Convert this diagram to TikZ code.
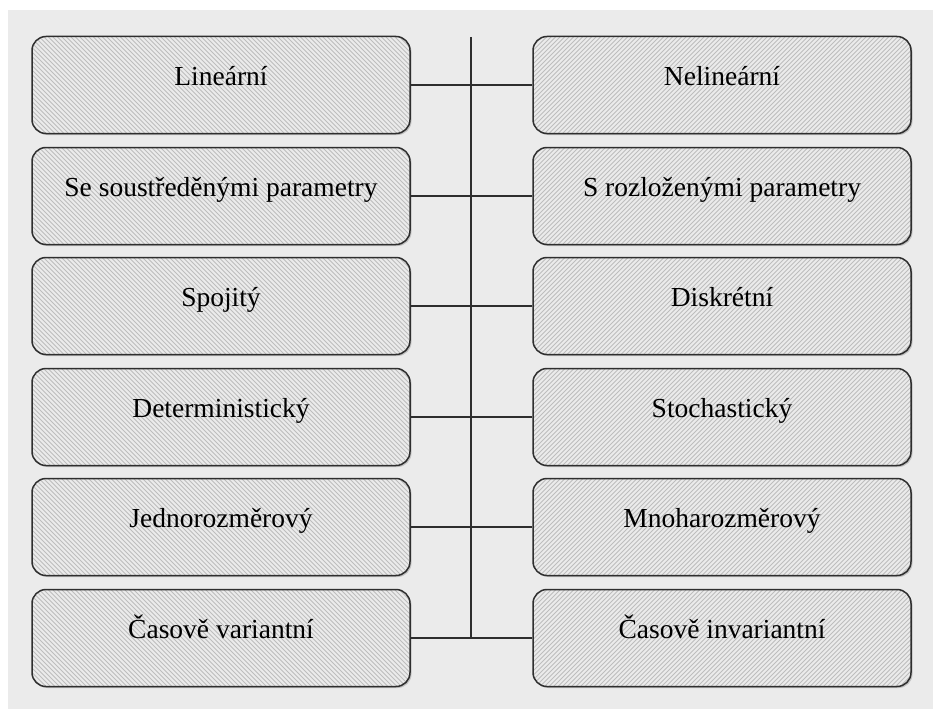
\documentclass[tikz,border=0pt]{standalone}
\usepackage{fontspec}
\setmainfont{Liberation Serif}
\usetikzlibrary{shadows}

\definecolor{bggray}{HTML}{EBEBEB}
\definecolor{hatchgray}{HTML}{BDBDBD}
\definecolor{edgegray}{HTML}{2E2E2E}

\begin{document}
\begin{tikzpicture}[
    x=1pt, y=-1pt,
    kind/.style={
        rectangle,
        rounded corners=14pt,
        minimum width=378pt,
        minimum height=97pt,
        draw=edgegray,
        line width=1.5pt,
        fill=bggray,
        drop shadow={shadow xshift=1.5pt, shadow yshift=-1.5pt, opacity=0.4},
        font=\fontsize{27.5}{30}\selectfont,
        text height=18pt,
        text depth=18pt,
        align=center
    },
    % hatching "\\" on the left, "//" on the right
    leftkind/.style={kind, path picture={
        \foreach \k in {-110,-105.5,...,390}
            \draw[hatchgray, line width=0.8pt]
                ([xshift=\k pt]path picture bounding box.north west) -- ++(110pt,-110pt);}},
    rightkind/.style={kind, path picture={
        \foreach \k in {-110,-105.5,...,390}
            \draw[hatchgray, line width=0.8pt]
                ([xshift=\k pt]path picture bounding box.south west) -- ++(110pt,110pt);}},
    link/.style={draw=edgegray, line width=1.5pt}
]

\useasboundingbox (0,0) rectangle (933,709);
\fill[bggray] (8,10) rectangle (933,709);

\node[leftkind] (lin) at (221,85) {Lineární};
\node[rightkind] (nelin) at (722,85) {Nelineární};
\node[leftkind] (soustr) at (221,196) {Se soustředěnými parametry};
\node[rightkind] (rozloz) at (722,196) {S rozloženými parametry};
\node[leftkind] (spoj) at (221,306) {Spojitý};
\node[rightkind] (diskr) at (722,306) {Diskrétní};
\node[leftkind] (determ) at (221,417) {Deterministický};
\node[rightkind] (stoch) at (722,417) {Stochastický};
\node[leftkind] (jedno) at (221,527) {Jednorozměrový};
\node[rightkind] (mnoha) at (722,527) {Mnoharozměrový};
\node[leftkind] (var) at (221,638) {Časově variantní};
\node[rightkind] (invar) at (722,638) {Časově invariantní};

\coordinate (axis) at (471,37);

\draw[link] (axis) -- (axis |- var);
\draw[link] (lin) -- (nelin);
\draw[link] (soustr) -- (rozloz);
\draw[link] (spoj) -- (diskr);
\draw[link] (determ) -- (stoch);
\draw[link] (jedno) -- (mnoha);
\draw[link] (var) -- (invar);

\end{tikzpicture}
\end{document}
